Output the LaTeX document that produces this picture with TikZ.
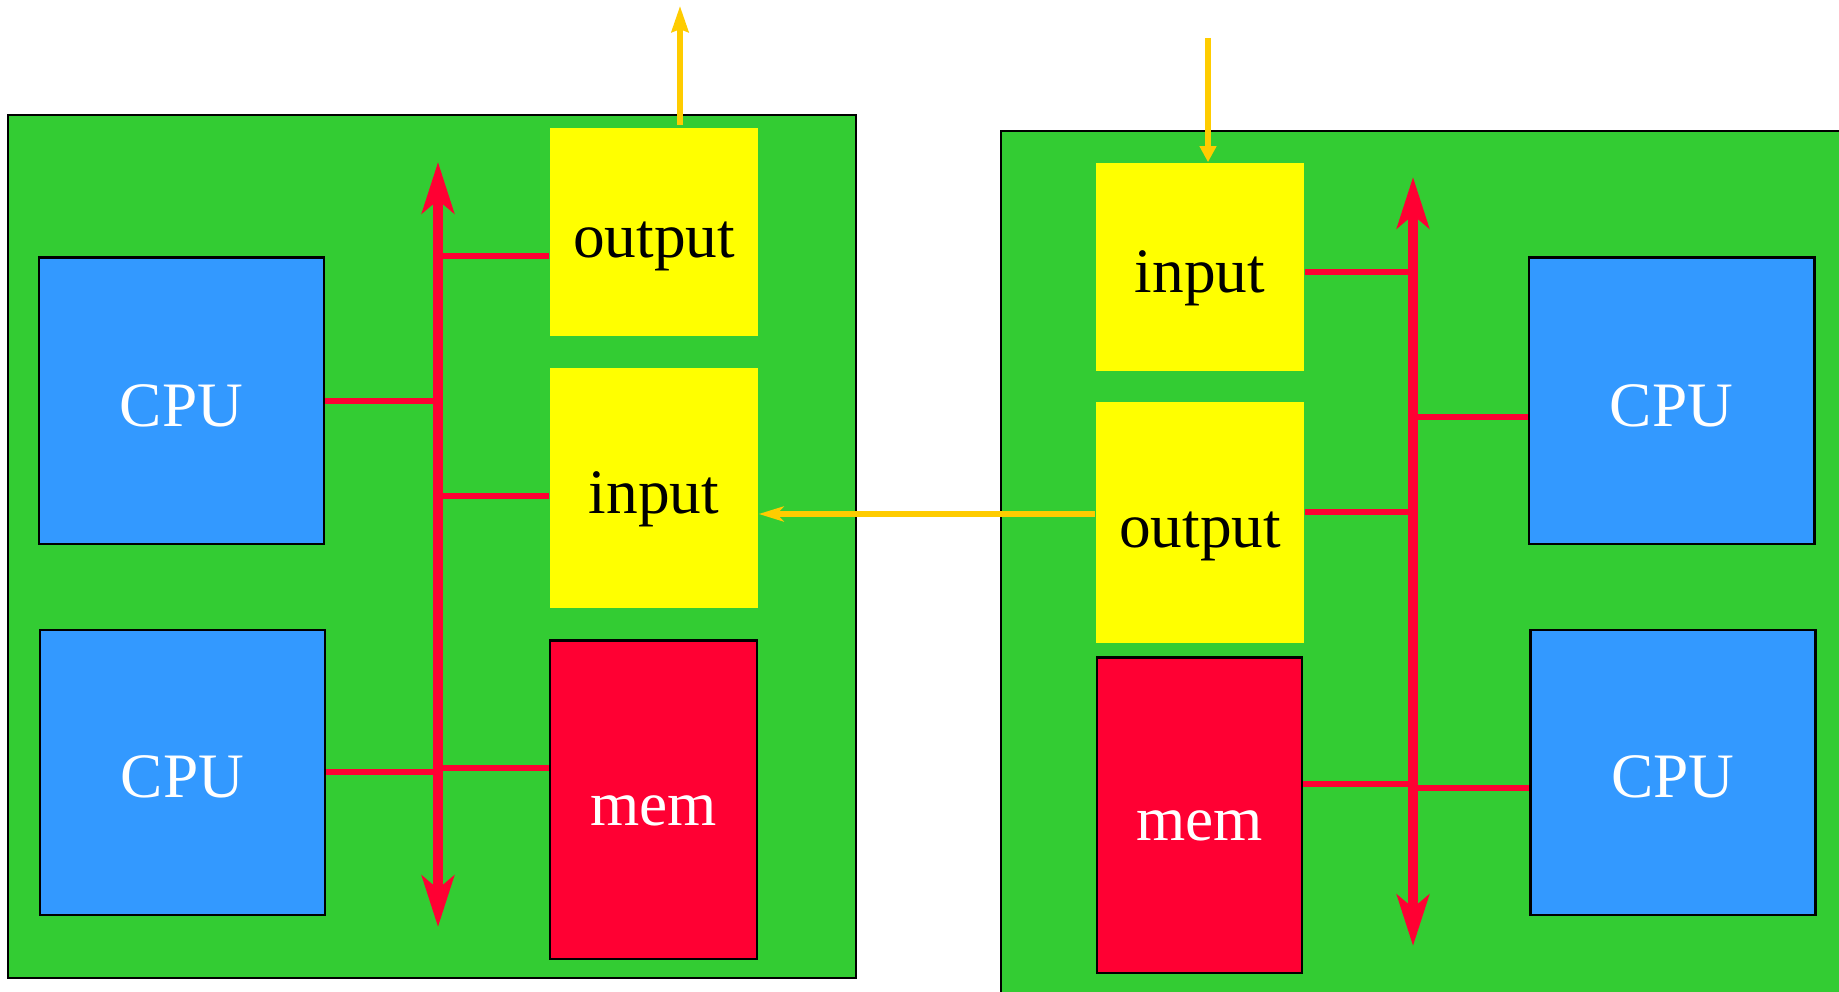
\documentclass[tikz,border=0pt]{standalone}
\usepackage{fontspec}
\setmainfont{Liberation Serif}
\usetikzlibrary{arrows.meta}
\definecolor{pgreen}{HTML}{33CC33}
\definecolor{pblue}{HTML}{3399FF}
\definecolor{pyellow}{HTML}{FFFF00}
\definecolor{pred}{HTML}{FF0033}
\definecolor{porange}{HTML}{FFCC00}
\tikzset{
  panel/.style={draw=black, line width=0.6pt, fill=pgreen},
  boxtext/.style={inner sep=0pt, text height=14.4pt, text depth=0pt, font=\fontsize{18pt}{20pt}\selectfont},
  cpubox/.style={boxtext, draw=black, line width=0.8pt, fill=pblue, text=white},
  iobox/.style={boxtext, fill=pyellow, text=black},
  membox/.style={boxtext, draw=black, line width=0.8pt, fill=pred, text=white},
  bus/.style={draw=pred, line width=3.1pt, {Stealth[length=14.5pt, width=9.1pt, inset=3.7pt]}-{Stealth[length=14.5pt, width=9.1pt, inset=3.7pt]}},
  branch/.style={draw=pred, line width=1.45pt},
  sig/.style={draw=porange, line width=1.5pt}
}
\begin{document}
\begin{tikzpicture}[x={(0.01cm,0)}, y={(0,-0.01cm)}]
\useasboundingbox (0,0) rectangle (1839,992);
% panels
\draw[panel] (8,115) rectangle (856,978);
\draw[panel] (1001,131) rectangle (1860,1010);
% left side boxes
\node[cpubox, minimum width=2.85cm, minimum height=2.86cm] (LCPU1) at (181.5,401) {CPU};
\node[cpubox, minimum width=2.85cm, minimum height=2.85cm] (LCPU2) at (182.5,772.5) {CPU};
\node[iobox, minimum width=2.08cm, minimum height=2.08cm] (Lout) at (654,232) {output};
\node[iobox, minimum width=2.08cm, minimum height=2.40cm] (Lin) at (654,488) {input};
\node[membox, minimum width=2.07cm, minimum height=3.18cm] (Lmem) at (653.5,800) {mem};
% right side boxes
\node[iobox, minimum width=2.08cm, minimum height=2.08cm] (Rin) at (1200,267) {input};
\node[iobox, minimum width=2.08cm, minimum height=2.41cm] (Rout) at (1200,522.5) {output};
\node[membox, minimum width=2.05cm, minimum height=3.15cm] (Rmem) at (1199.5,815.5) {mem};
\node[cpubox, minimum width=2.85cm, minimum height=2.86cm] (RCPU1) at (1671.5,401) {CPU};
\node[cpubox, minimum width=2.85cm, minimum height=2.85cm] (RCPU2) at (1673,772.5) {CPU};
% buses
\coordinate (Ltop) at (438,162);
\coordinate (Lbot) at (438,927);
\coordinate (Rtop) at (1413,177);
\coordinate (Rbot) at (1413,946);
\draw[bus] (Lbot) -- (Ltop);
\draw[bus] (Rbot) -- (Rtop);
% left branches
\draw[branch] (Lout.west |- 0,256) -- (Ltop |- 0,256);
\draw[branch] (LCPU1.east |- 0,401) -- (Ltop |- 0,401);
\draw[branch] (Lin.west |- 0,496) -- (Ltop |- 0,496);
\draw[branch] (LCPU2.east |- 0,772) -- (Ltop |- 0,772);
\draw[branch] (Lmem.west |- 0,768) -- (Ltop |- 0,768);
% right branches
\draw[branch] (Rin.east |- 0,272) -- (Rtop |- 0,272);
\draw[branch] (RCPU1.west |- 0,417) -- (Rtop |- 0,417);
\draw[branch] (Rout.east |- 0,512) -- (Rtop |- 0,512);
\draw[branch] (Rmem.east |- 0,784) -- (Rtop |- 0,784);
\draw[branch] (RCPU2.west |- 0,788) -- (Rtop |- 0,788);
% signal arrows
\coordinate (outTop) at (680,6);
\coordinate (inTop) at (1208,38);
\draw[sig, -{Stealth[length=7.4pt, width=4.8pt, inset=0.8pt]}] (Lout.north -| outTop) ++(0,-2) -- (outTop);
\draw[sig, -{Triangle[length=4.6pt, width=4.6pt]}] (inTop) -- (Rin.north -| inTop);
\draw[sig, -{Stealth[length=7.1pt, width=4.3pt, inset=2pt]}] (Rout.west |- 0,514) -- (Lin.east |- 0,514);
\end{tikzpicture}
\end{document}
